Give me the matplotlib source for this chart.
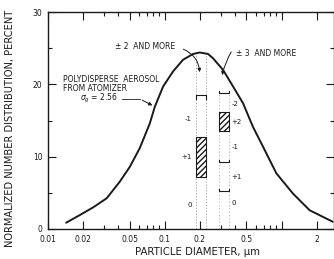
import matplotlib
matplotlib.use("Agg")
import matplotlib.pyplot as plt
from matplotlib.ticker import FixedLocator, FixedFormatter, NullFormatter

# Curve
diam = [0.0143, 0.0188, 0.0244, 0.0318, 0.0412, 0.0502, 0.0611, 0.0744, 0.0821,
        0.0967, 0.1178, 0.1433, 0.1746, 0.199, 0.2345, 0.2587, 0.315, 0.384,
        0.467, 0.569, 0.692, 0.901, 1.25, 1.734, 2.74]
dist = [0.87, 1.94, 3.0, 4.25, 6.55, 8.6, 11.2, 14.6, 16.9,
        19.7, 21.8, 23.4, 24.2, 24.4, 24.2, 23.6, 22.0, 19.7,
        17.4, 14.1, 11.4, 7.7, 4.9, 2.6, 1.0]

# Columns of measurement bars
col1_x = [0.184, 0.224]
col1_box = [7.2, 12.7]
col1_bracket = 18.5
col1_labels = [("-1", 15.2), ("+1", 10.0), ("0", 3.3)]

col2_x = [0.289, 0.356]
col2_box = [13.5, 16.2]
col2_bars = [18.8, 9.3, 5.2]
col2_labels = [("-2", 17.3), ("+2", 14.8), ("-1", 11.3), ("+1", 7.2), ("0", 3.6)]

xticks_major = [0.01, 0.02, 0.05, 0.1, 0.2, 0.5, 1, 2]
xtick_labels = ["0.01", "0.02", "0.05", "0.1", "0.2", "0.5", "", "2"]
xticks_minor = [0.03, 0.04, 0.06, 0.07, 0.08, 0.09, 0.3, 0.4, 0.6, 0.7, 0.8, 0.9]
yticks_major = [0, 10, 20, 30]
yticks_minor = [5, 15, 25]

ink = "#1a1a1a"
plt.rcParams["font.family"] = ["DejaVu Sans"]

fig = plt.figure(figsize=(3.34, 2.59), dpi=100)
ax = fig.add_axes([48/334, 30/259, 285.5/334, 217/259])
ax.set_xscale("log")
ax.set_xlim(0.01, 2.78)
ax.set_ylim(0, 30)

ax.plot(diam, dist, color=ink, lw=1.4, zorder=5, solid_joinstyle="round",
        solid_capstyle="round")

# dotted vertical guides
for xv in col1_x:
    ax.plot([xv, xv], [0, 24.6], color="#999999", lw=0.6, ls=(0, (1.5, 2)), zorder=2)
for xv in col2_x:
    ax.plot([xv, xv], [0, 18.8], color="#aaaaaa", lw=0.6, ls=(0, (1.5, 2.5)), zorder=2)

# column 1
ax.fill_between(col1_x, col1_box[0], col1_box[1], facecolor="white",
                edgecolor=ink, hatch="//////", lw=0.8, zorder=3)
ax.plot([col1_x[0], col1_x[0], col1_x[1], col1_x[1]],
        [col1_bracket - 0.5, col1_bracket, col1_bracket, col1_bracket - 0.5],
        color=ink, lw=0.8, zorder=3)
for t, yv in col1_labels:
    ax.text(0.171, yv, t, fontsize=5, color=ink, ha="right", va="center")

# column 2
ax.fill_between(col2_x, col2_box[0], col2_box[1], facecolor="white",
                edgecolor=ink, hatch="//////", lw=0.8, zorder=3)
for yv in col2_bars:
    ax.plot([col2_x[0], col2_x[0], col2_x[1], col2_x[1]],
            [yv + 0.3, yv, yv, yv + 0.3], color=ink, lw=0.8, zorder=3)
for t, yv in col2_labels:
    ax.text(0.37, yv, t, fontsize=5, color=ink, ha="left", va="center")

# annotations
fs_ann = 5.5
ax.text(0.0374, 25.2, "± 2  AND MORE", fontsize=fs_ann, color=ink, ha="left", va="center")
ax.annotate("", xy=(0.199, 21.3), xytext=(0.137, 25.0),
            arrowprops=dict(arrowstyle="-|>", color=ink, lw=0.7, mutation_scale=5,
                            connectionstyle="arc3,rad=-0.35"))
ax.text(0.404, 24.3, "± 3  AND MORE", fontsize=fs_ann, color=ink, ha="left", va="center")
ax.annotate("", xy=(0.307, 20.9), xytext=(0.381, 24.8),
            arrowprops=dict(arrowstyle="-|>", color=ink, lw=0.7, mutation_scale=5,
                            connectionstyle="arc3,rad=0.1"))

ax.text(0.01343, 20.6, "POLYDISPERSE  AEROSOL", fontsize=fs_ann, color=ink, ha="left", va="center")
ax.text(0.01343, 19.4, "FROM ATOMIZER", fontsize=fs_ann, color=ink, ha="left", va="center")
ax.text(0.0188, 18.0, r"$\sigma_g$ = 2.56", fontsize=fs_ann, color=ink, ha="left", va="center")
ax.plot([0.0429, 0.061], [18.0, 18.0], color=ink, lw=0.6)
ax.annotate("", xy=(0.0821, 16.9), xytext=(0.061, 18.0),
            arrowprops=dict(arrowstyle="-|>", color=ink, lw=0.7, mutation_scale=5))

# axes styling
ax.xaxis.set_major_locator(FixedLocator(xticks_major))
ax.xaxis.set_major_formatter(FixedFormatter(xtick_labels))
ax.xaxis.set_minor_locator(FixedLocator(xticks_minor))
ax.xaxis.set_minor_formatter(NullFormatter())
ax.yaxis.set_major_locator(FixedLocator(yticks_major))
ax.yaxis.set_minor_locator(FixedLocator(yticks_minor))
ax.tick_params(which="both", direction="in", top=True, right=True, colors=ink,
               labelsize=5.5, width=0.8)
ax.tick_params(which="major", length=6, pad=4)
ax.tick_params(which="minor", length=3)
for s in ax.spines.values():
    s.set_color(ink)
    s.set_linewidth(1.0)

ax.set_xlabel("PARTICLE DIAMETER, μm", fontsize=7.3, color=ink)
ax.set_ylabel("NORMALIZED NUMBER DISTRIBUTION, PERCENT", fontsize=7.1, color=ink)
ax.xaxis.set_label_coords(0.525, -0.085)
ax.yaxis.set_label_coords(-0.115, 0.465)

fig.savefig("out.png", dpi=100)
